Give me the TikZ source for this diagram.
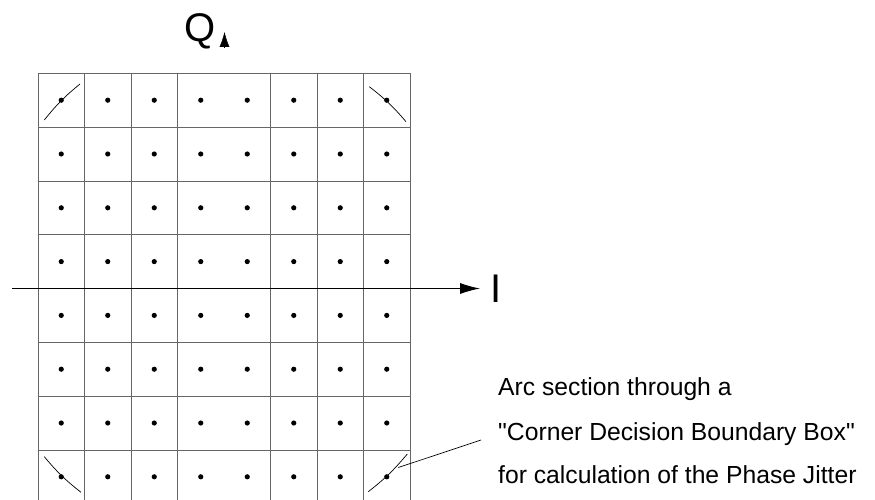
\documentclass[tikz,border=0pt]{standalone}
\usepackage{fontspec}
\setmainfont{Liberation Sans}
\usetikzlibrary{arrows.meta,positioning}

\begin{document}
\begin{tikzpicture}[
    x=1pt, y=-1pt,
    every node/.style={inner sep=0pt},
    cell/.style={draw=black!60, line width=0.8pt},
    dot/.style={circle, fill=black, minimum size=5.2pt, inner sep=0pt},
    cornerarc/.style={line width=0.7pt, bend left=6},
    axis/.style={line width=0.9pt},
    axlab/.style={font=\fontsize{40}{44}\selectfont, anchor=base},
    note/.style={font=\fontsize{24.7}{28}\selectfont, anchor=base west},
  ]
  \useasboundingbox (0,0) rectangle (875,500);
  \clip (0,0) rectangle (875,500);
  % cells, no line on the Q axis
  \foreach \i in {0,1,2,3,5,6,7,8}
    \draw[cell] (38+46.5*\i,73.3) -- (38+46.5*\i,510);
  \foreach \j in {0,...,7}
    \draw[cell] (38,73.3+53.8*\j) -- (410,73.3+53.8*\j);
  % constellation points
  \foreach \i in {0,...,7}
    \foreach \j in {0,...,7}
      \node[dot] (p\i\j) at (61.25+46.5*\i,100.2+53.8*\j) {};
  % axes
  \coordinate (iStart) at (12,288.5);
  \coordinate (iEnd) at (480,288.5);
  \draw[axis, -{Latex[length=20pt,width=11pt]}] (iStart) -- (iEnd);
  \node[axlab] (ilab) at (496,302) {I};
  \coordinate (qBase) at (224.5,47);
  \coordinate (qTip) at (224.5,32);
  \draw[-{Latex[length=15pt,width=10pt]}] (qBase) -- (qTip);
  \node[axlab] (qlab) at (200,42) {Q};
  % corner arcs
  \draw[cornerarc] (44.3,120) to (80,84);
  \draw[cornerarc] (369.3,86.7) to (406,121.7);
  \draw[cornerarc] (81,492.3) to (44.3,456.7);
  \draw[cornerarc] (407.3,454) to (368.3,491.7);
  % annotation
  \node[note] (txtA) at (498,395) {Arc section through a};
  \node[note] (txtB) at (498,440) {\textquotedbl Corner Decision Boundary Box\textquotedbl};
  \node[note] (txtC) at (498,483) {for calculation of the Phase Jitter};
  \coordinate (arcPt) at (398.3,467.5);
  \coordinate (ptrEnd) at (481,440);
  \draw[line width=0.7pt] (arcPt) -- (ptrEnd);
\end{tikzpicture}
\end{document}
